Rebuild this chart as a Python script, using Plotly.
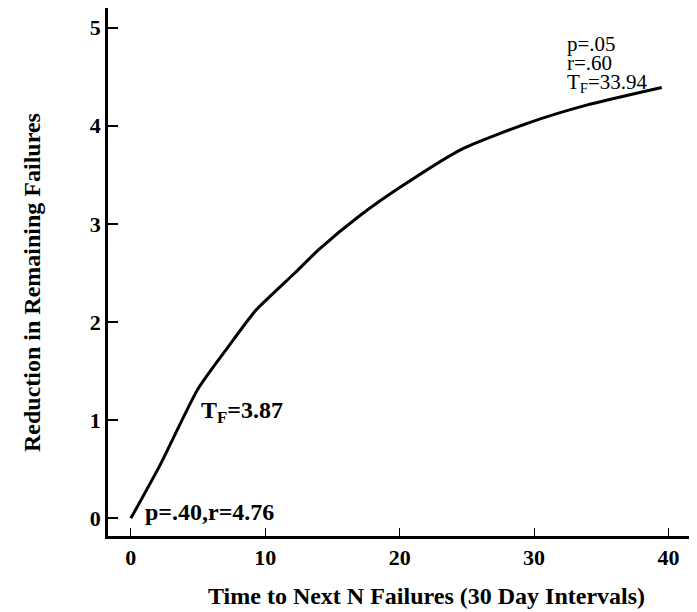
import plotly.graph_objects as go

# Data
time_x = [0, 2.2, 5, 7.2, 9.3, 12.2, 14, 17, 20, 24.6, 29.6, 33.9, 39.5]
reduction_y = [0, 0.55, 1.32, 1.74, 2.12, 2.5, 2.74, 3.08, 3.37, 3.76, 4.03, 4.21, 4.39]

x_ticks = [0, 10, 20, 30, 40]
y_ticks = [0, 1, 2, 3, 4, 5]

x_title = "Time to Next N Failures (30 Day Intervals)"
y_title = "Reduction in Remaining Failures"

FONT = "Liberation Serif"

fig = go.Figure()
fig.add_trace(go.Scatter(
    x=time_x, y=reduction_y, mode="lines",
    line=dict(color="black", width=3, shape="spline", smoothing=0.6),
    showlegend=False, hoverinfo="skip",
))

fig.add_annotation(x=0.9, y=0.06, xref="x", yref="y", text="p=.40,r=4.76",
                   showarrow=False, xanchor="left", yanchor="middle",
                   font=dict(family=FONT, size=24, color="black", weight="bold"))
fig.add_annotation(x=5.1, y=1.08, xref="x", yref="y", text="T<sub>F</sub>=3.87",
                   showarrow=False, xanchor="left", yanchor="middle",
                   font=dict(family=FONT, size=24, color="black", weight="bold"))
top_lines = ["p=.05", "r=.60", "T<sub>F</sub>=33.94"]
top_y = [4.83, 4.64, 4.44]
for txt, yy in zip(top_lines, top_y):
    fig.add_annotation(x=32.3, y=yy, xref="x", yref="y", text=txt,
                       showarrow=False, xanchor="left", yanchor="middle",
                       font=dict(family=FONT, size=21, color="black"))

# Axis titles (placed as in the reference, slightly off-centre)
fig.add_annotation(x=0.548, y=-0.114, xref="paper", yref="paper", text=x_title,
                   showarrow=False, xanchor="center", yanchor="middle",
                   font=dict(family=FONT, size=24, color="black", weight="bold"))
fig.add_annotation(x=-0.1306, y=0.481, xref="paper", yref="paper", text=y_title,
                   showarrow=False, xanchor="center", yanchor="middle", textangle=-90,
                   font=dict(family=FONT, size=24, color="black", weight="bold"))

# The page body adds an 8px margin, so the figure is sized to fit the window.
fig.update_layout(
    width=689, height=604,
    margin=dict(l=100, r=7, t=0, b=76),
    paper_bgcolor="white", plot_bgcolor="white",
    xaxis=dict(
        range=[-1.7, 41.6], tickvals=x_ticks, ticktext=[str(v) for v in x_ticks],
        showline=True, linecolor="black", linewidth=2.5, automargin=False,
        ticks="inside", ticklen=8, tickwidth=1, tickcolor="black",
        showgrid=False, zeroline=False,
        tickfont=dict(family=FONT, size=22, color="black", weight="bold"),
    ),
    yaxis=dict(
        range=[-0.18, 5.2], tickvals=y_ticks, ticktext=[str(v) for v in y_ticks],
        showline=True, linecolor="black", linewidth=2.5, automargin=False,
        ticks="inside", ticklen=10, tickwidth=1.5, tickcolor="black",
        showgrid=False, zeroline=False,
        tickfont=dict(family=FONT, size=22, color="black", weight="bold"),
    ),
)

fig.write_html("out.html")
